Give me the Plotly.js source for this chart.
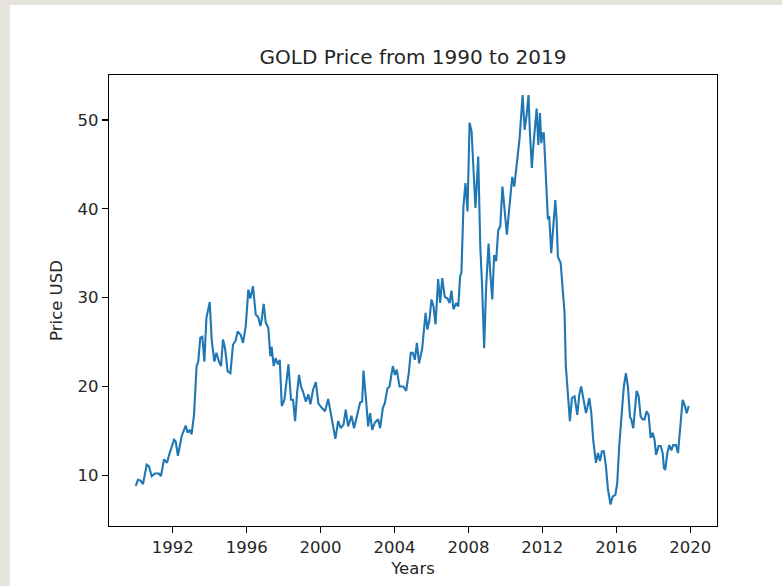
<!DOCTYPE html>
<html>
<head>
<meta charset="utf-8">
<script src="https://cdn.plot.ly/plotly-3.0.1.min.js"></script>
<style>
  html, body { margin: 0; padding: 0; background: #e7e4dd; width: 782px; height: 586px; overflow: hidden; }
  #chart { position: absolute; left: 10px; top: 5px; width: 772px; height: 581px; background: #ffffff; }
</style>
</head>
<body>
<div id="chart"></div>
<script>
// Decimal year of each reading
const years = [
  1990.00,1990.12,1990.26,1990.39,1990.59,1990.71,1990.86,1991.04,1991.25,1991.36,1991.53,1991.69,1991.83,
  1992.07,1992.16,1992.28,1992.48,1992.70,1992.81,1992.92,1993.02,1993.15,1993.29,1993.38,1993.49,1993.60,
  1993.71,1993.82,1994.00,1994.11,1994.25,1994.36,1994.50,1994.61,1994.72,1994.83,1994.97,1995.12,1995.26,
  1995.41,1995.51,1995.68,1995.80,1995.95,1996.09,1996.20,1996.34,1996.49,1996.63,1996.74,1996.81,1996.92,
  1997.03,1997.17,1997.28,1997.35,1997.46,1997.57,1997.68,1997.79,1997.90,1998.04,1998.26,1998.40,1998.51,
  1998.62,1998.73,1998.83,1998.94,1999.05,1999.20,1999.34,1999.45,1999.59,1999.74,1999.88,2000.06,2000.24,
  2000.41,2000.55,2000.70,2000.80,2000.95,2001.09,2001.24,2001.36,2001.49,2001.67,2001.81,2001.99,2002.14,
  2002.25,2002.32,2002.46,2002.57,2002.68,2002.79,2002.93,2003.11,2003.22,2003.37,2003.47,2003.62,2003.73,
  2003.91,2004.02,2004.12,2004.27,2004.48,2004.63,2004.77,2004.88,2004.99,2005.10,2005.21,2005.33,2005.50,
  2005.68,2005.78,2005.89,2006.00,2006.11,2006.22,2006.36,2006.47,2006.58,2006.72,2006.87,2006.98,2007.08,
  2007.19,2007.34,2007.45,2007.55,2007.62,2007.73,2007.84,2007.95,2008.06,2008.17,2008.27,2008.38,2008.53,
  2008.64,2008.74,2008.85,2008.96,2009.09,2009.18,2009.29,2009.39,2009.50,2009.61,2009.72,2009.84,2009.97,
  2010.08,2010.22,2010.37,2010.48,2010.58,2010.77,2010.93,2011.04,2011.14,2011.25,2011.32,2011.43,2011.51,
  2011.61,2011.69,2011.78,2011.87,2011.94,2012.01,2012.08,2012.19,2012.30,2012.37,2012.48,2012.59,2012.70,
  2012.77,2012.84,2012.99,2013.09,2013.20,2013.27,2013.38,2013.49,2013.60,2013.74,2013.89,2014.00,2014.10,
  2014.21,2014.36,2014.43,2014.54,2014.65,2014.75,2014.90,2015.01,2015.12,2015.22,2015.33,2015.44,2015.55,
  2015.69,2015.80,2015.95,2016.05,2016.16,2016.31,2016.41,2016.52,2016.63,2016.74,2016.81,2016.92,2017.03,
  2017.10,2017.21,2017.32,2017.43,2017.53,2017.64,2017.75,2017.86,2017.97,2018.07,2018.15,2018.29,2018.40,
  2018.51,2018.58,2018.65,2018.76,2018.87,2018.98,2019.08,2019.23,2019.34,2019.48,2019.59,2019.70,2019.81,
  2019.92
];
// Price (USD)
const prices = [
  8.8,9.5,9.4,9.0,11.2,11.0,9.9,10.2,10.2,9.9,11.8,11.4,12.5,
  14.0,13.8,12.2,14.4,15.6,14.8,15.1,14.6,16.8,22.3,22.8,25.5,25.6,
  22.8,27.7,29.5,25.2,22.8,23.8,22.8,22.3,25.3,24.3,21.7,21.5,24.7,
  25.2,26.2,25.8,24.9,26.8,30.9,29.9,31.3,28.1,27.8,26.8,27.5,29.3,
  27.2,26.6,23.4,24.5,22.3,23.2,22.5,23.0,17.8,18.5,22.5,18.5,18.5,
  16.1,19.3,21.3,20.0,19.4,18.3,19.1,18.0,19.6,20.5,18.1,17.6,17.2,
  18.6,17.0,15.5,14.1,16.1,15.3,15.7,17.4,15.5,16.7,15.3,17.0,18.2,
  18.3,21.8,18.5,15.5,17.0,15.1,15.9,16.3,15.3,17.6,18.1,19.8,20.0,
  22.3,21.3,21.9,20.0,20.0,19.5,21.5,23.8,23.8,23.0,24.9,22.6,24.3,
  28.3,26.4,27.5,29.8,29.0,27.0,32.1,29.4,32.2,30.1,29.9,29.4,30.8,
  28.7,29.4,29.0,32.4,32.8,40.3,42.9,39.7,49.7,48.7,44.0,40.1,45.9,
  35.8,31.3,24.3,31.3,36.1,32.8,29.8,34.8,34.1,37.6,38.0,42.5,39.7,
  37.1,40.3,43.6,42.5,44.4,48.0,52.8,48.9,50.4,52.8,48.9,44.6,47.0,
  50.0,51.3,47.2,50.8,47.4,48.5,48.5,44.2,38.8,39.2,35.0,38.0,41.0,
  38.8,34.6,33.9,31.3,28.3,22.3,18.9,16.1,18.7,18.9,16.8,19.1,20.0,
  18.9,17.0,17.6,18.7,17.0,14.0,11.4,12.5,11.6,12.7,12.7,11.0,8.4,
  6.7,7.6,7.8,9.1,13.3,17.4,20.0,21.5,20.0,16.6,16.3,15.3,18.5,
  19.5,18.9,16.6,16.3,16.3,17.2,16.8,14.2,14.8,14.0,12.3,13.3,13.3,
  12.5,10.8,10.6,12.5,13.4,12.8,13.4,13.4,12.5,15.5,18.5,17.9,17.0,
  17.8
];
const xTickVals = [1992, 1996, 2000, 2004, 2008, 2012, 2016, 2020];
const xTickText = ['1992', '1996', '2000', '2004', '2008', '2012', '2016', '2020'];
const yTickVals = [10, 20, 30, 40, 50];
const yTickText = ['10', '20', '30', '40', '50'];

const font = 'DejaVu Sans, sans-serif';

const trace = {
  x: years,
  y: prices,
  type: 'scatter',
  mode: 'lines',
  line: { color: '#1f77b4', width: 2.1 },
  hoverinfo: 'skip'
};

const axisCommon = {
  showline: true, mirror: true, linecolor: '#000000', linewidth: 1.2,
  showgrid: false, zeroline: false,
  ticks: 'outside', ticklen: 6, tickwidth: 1.2, tickcolor: '#000000',
  tickfont: { family: font, size: 16.5, color: '#262626' }
};

const layout = {
  width: 772, height: 581,
  paper_bgcolor: '#ffffff', plot_bgcolor: '#ffffff',
  margin: { l: 98.7, r: 65.4, t: 70, b: 59.5, pad: 0 },
  showlegend: false,
  title: {
    text: 'GOLD Price from 1990 to 2019',
    font: { family: font, size: 20, color: '#262626' },
    x: 0.5, xref: 'paper', xanchor: 'center',
    y: 1 - 52 / 581, yref: 'container', yanchor: 'middle'
  },
  xaxis: Object.assign({}, axisCommon, {
    range: [1988.55, 2021.45],
    tickmode: 'array', tickvals: xTickVals, ticktext: xTickText,
    title: { text: 'Years', font: { family: font, size: 16.5, color: '#262626' }, standoff: 6 }
  }),
  yaxis: Object.assign({}, axisCommon, {
    range: [4.29, 55.07],
    tickmode: 'array', tickvals: yTickVals, ticktext: yTickText,
    title: { text: 'Price USD', font: { family: font, size: 16.5, color: '#262626' }, standoff: 10 }
  })
};

Plotly.newPlot('chart', [trace], layout, { displayModeBar: false, staticPlot: true });
</script>
</body>
</html>
